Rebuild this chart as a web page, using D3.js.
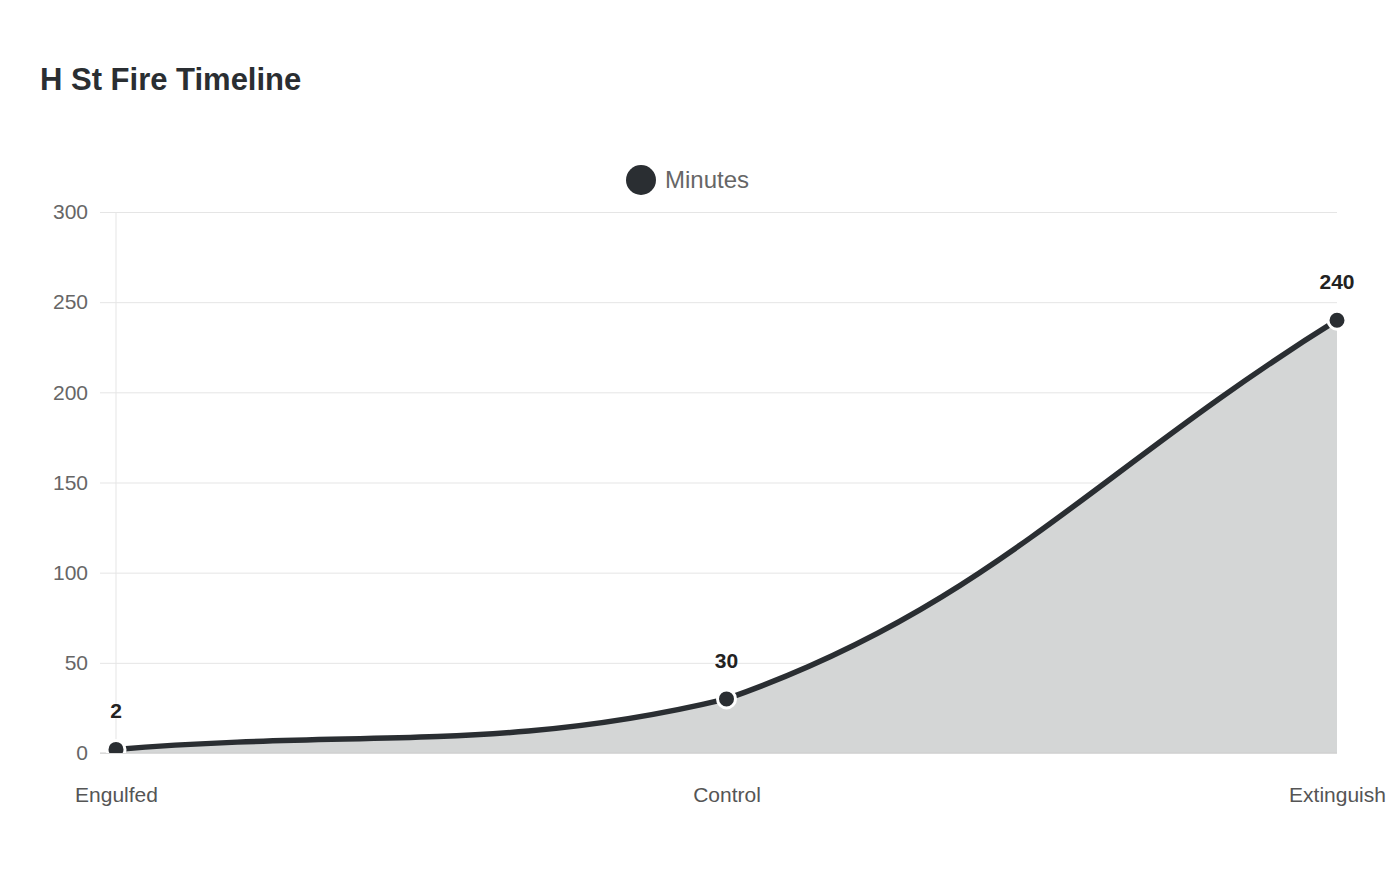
<!DOCTYPE html>
<html lang="en">
<head>
  <meta charset="UTF-8">
  <title>H St Fire Timeline</title>
  <style>
    body { margin: 0; background: #fff; }
    text { font-family: "Liberation Sans", Arial, sans-serif; }
  </style>
</head>
<body>
  <svg></svg>
  <script src="https://cdn.jsdelivr.net/npm/d3@7"></script>
  <script>
    var categories = ["Engulfed", "Control", "Extinguish"];
    var minutes = [2, 30, 240];
    var yTicks = [0, 50, 100, 150, 200, 250, 300];
    var seriesName = "Minutes";

    var width = 1400, height = 880;
    var plotLeft = 116, plotRight = 1337, plotTop = 212, plotBottom = 753;
    var dark = "#2a2e32";

    var svg = d3.select("svg")
      .attr("width", width)
      .attr("height", height);

    // 标题
    svg.append("text")
      .attr("x", 40)
      .attr("y", 90)
      .attr("font-size", "31px")
      .attr("font-weight", "bold")
      .attr("fill", dark)
      .text("H St Fire Timeline");

    // 图例
    var legend = svg.append("g").attr("transform", "translate(641, 180)");
    legend.append("circle").attr("r", 15).attr("fill", dark);
    legend.append("text")
      .attr("x", 24)
      .attr("y", 8)
      .attr("font-size", "24px")
      .attr("fill", "#666")
      .text(seriesName);

    var x = d3.scalePoint().domain(categories).range([plotLeft, plotRight]);
    var y = d3.scaleLinear().domain([0, 300]).range([plotBottom, plotTop]);

    // 网格
    svg.append("g")
      .attr("transform", `translate(${plotLeft - 16}, 0)`)
      .call(d3.axisLeft(y).tickValues(yTicks).tickSize(-(plotRight - plotLeft + 16)).tickPadding(12))
      .call(g => g.select(".domain").remove())
      .call(g => g.selectAll(".tick line").attr("stroke", "#e5e5e5"))
      .call(g => g.selectAll(".tick text")
        .attr("font-size", "21px")
        .attr("fill", "#666")
        .attr("font-family", "Liberation Sans, Arial, sans-serif"));

    svg.append("line")
      .attr("x1", plotLeft).attr("x2", plotLeft)
      .attr("y1", plotTop).attr("y2", plotBottom)
      .attr("stroke", "#e5e5e5");

    // 曲线（仿 Chart.js 的 spline，tension 0.4）
    var pts = minutes.map((v, i) => [x(categories[i]), y(v)]);
    var tension = 0.4;
    var ctrl = pts.map(function (p, i) {
      var prev = pts[i - 1] || p, next = pts[i + 1] || p;
      var d01 = Math.hypot(p[0] - prev[0], p[1] - prev[1]);
      var d12 = Math.hypot(next[0] - p[0], next[1] - p[1]);
      var s01 = d01 / (d01 + d12), s12 = d12 / (d01 + d12);
      if (isNaN(s01)) s01 = 0;
      if (isNaN(s12)) s12 = 0;
      var fa = tension * s01, fb = tension * s12;
      var cap = function (c) {
        return [Math.max(plotLeft, Math.min(plotRight, c[0])), Math.max(plotTop, Math.min(plotBottom, c[1]))];
      };
      return {
        prev: cap([p[0] - fa * (next[0] - prev[0]), p[1] - fa * (next[1] - prev[1])]),
        next: cap([p[0] + fb * (next[0] - prev[0]), p[1] + fb * (next[1] - prev[1])])
      };
    });

    function curve(ctx) {
      ctx.moveTo(pts[0][0], pts[0][1]);
      for (var i = 1; i < pts.length; i++) {
        var a = ctrl[i - 1].next, b = ctrl[i].prev;
        ctx.bezierCurveTo(a[0], a[1], b[0], b[1], pts[i][0], pts[i][1]);
      }
      return ctx;
    }

    var area = curve(d3.path());
    area.lineTo(pts[pts.length - 1][0], plotBottom);
    area.lineTo(pts[0][0], plotBottom);
    area.closePath();

    svg.append("path")
      .attr("d", area.toString())
      .attr("fill", "#d4d6d6");

    // x 轴
    svg.append("g")
      .attr("transform", `translate(0, ${plotBottom})`)
      .call(d3.axisBottom(x).tickSize(0).tickPadding(34))
      .call(g => g.select(".domain").attr("stroke", "#cfcfcf").attr("d", `M${plotLeft - 16},0H${plotRight}`))
      .call(g => g.selectAll(".tick text")
        .attr("font-size", "21px")
        .attr("fill", "#555")
        .attr("font-family", "Liberation Sans, Arial, sans-serif"));

    svg.append("path")
      .attr("d", curve(d3.path()).toString())
      .attr("fill", "none")
      .attr("stroke", dark)
      .attr("stroke-width", 5.5)
      .attr("stroke-linecap", "round");

    // 数据点
    svg.append("clipPath").attr("id", "clip")
      .append("rect")
      .attr("x", 0).attr("y", 0)
      .attr("width", width).attr("height", plotBottom);

    svg.append("g")
      .attr("clip-path", "url(#clip)")
      .selectAll("circle")
      .data(minutes)
      .join("circle")
      .attr("cx", (d, i) => x(categories[i]))
      .attr("cy", d => y(d))
      .attr("r", 9)
      .attr("fill", dark)
      .attr("stroke", "#fff")
      .attr("stroke-width", 3);

    // 数据标签
    svg.append("g")
      .selectAll("text")
      .data(minutes)
      .join("text")
      .attr("x", (d, i) => x(categories[i]))
      .attr("y", d => y(d) - 31)
      .attr("text-anchor", "middle")
      .attr("font-size", "21px")
      .attr("font-weight", "bold")
      .attr("fill", "#222")
      .text(d => d);
  </script>
</body>
</html>
